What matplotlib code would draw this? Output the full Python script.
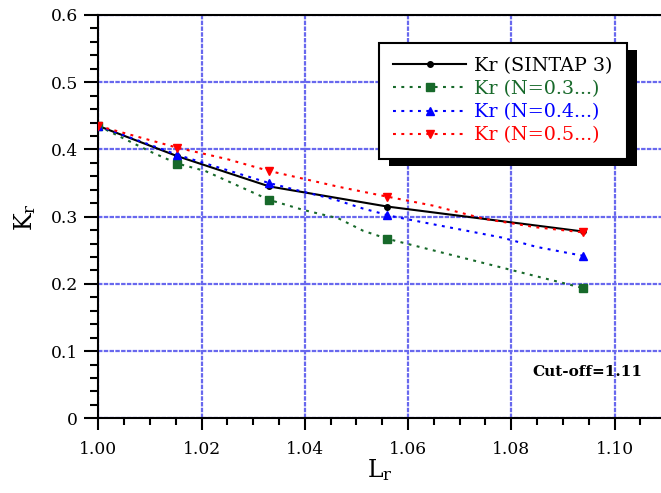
import matplotlib
matplotlib.use("Agg")
import matplotlib.pyplot as plt
from matplotlib.lines import Line2D
from matplotlib.patches import Rectangle
from matplotlib.ticker import MultipleLocator, FuncFormatter

plt.rcParams["font.family"] = ["DejaVu Serif"]
plt.rcParams["mathtext.fontset"] = "dejavuserif"

# SINTAP level 3 failure assessment curve
lr_sintap = [1.0, 1.0153, 1.0331, 1.0560, 1.0938]
kr_sintap = [0.435, 0.390, 0.345, 0.315, 0.278]

# Hardening exponent N = 0.3
lr_n03 = [1.0, 1.0100, 1.0153, 1.0207, 1.0331, 1.0397, 1.0465, 1.0513, 1.0560, 1.0938]
kr_n03 = [0.435, 0.397, 0.379, 0.368, 0.325, 0.310, 0.2975, 0.279, 0.267, 0.194]
mk_n03 = [0, 2, 4, 8, 9]

# Hardening exponent N = 0.4
lr_n04 = [1.0, 1.0153, 1.0331, 1.0397, 1.0456, 1.0513, 1.0545, 1.0560, 1.0633, 1.0781, 1.0849, 1.0913, 1.0938]
kr_n04 = [0.435, 0.392, 0.350, 0.337, 0.326, 0.312, 0.3055, 0.302, 0.291, 0.269, 0.255, 0.2455, 0.242]
mk_n04 = [0, 1, 2, 7, 12]

# Hardening exponent N = 0.5
lr_n05 = [1.0, 1.0153, 1.0249, 1.0331, 1.0465, 1.0560, 1.0649, 1.0749, 1.0849, 1.0938]
kr_n05 = [0.435, 0.4026, 0.3857, 0.368, 0.3445, 0.3297, 0.3163, 0.2965, 0.2841, 0.2767]
mk_n05 = [0, 1, 3, 5, 9]

labels = ["Kr (SINTAP 3)", "Kr (N=0.3...)", "Kr (N=0.4...)", "Kr (N=0.5...)"]
colors = ["black", "#17692a", "#0000ff", "#ff0000"]
cutoff_text = "Cut-off=1.11"

W, H = 661, 493
fig = plt.figure(figsize=(W / 100, H / 100), dpi=100)
left_px, right_px, top_px, bottom_px = 98.3, 661, 15, 418.3
ax = fig.add_axes([left_px / W, 1 - bottom_px / H,
                   (right_px - left_px) / W, (bottom_px - top_px) / H])

dots = (0, (1.4, 2.6))
ax.plot(lr_sintap, kr_sintap, color=colors[0], lw=1.5, marker="o", ms=4, zorder=3)
ax.plot(lr_n03, kr_n03, color=colors[1], lw=1.5, ls=dots, marker="s", ms=5.5,
        markevery=mk_n03, zorder=3)
ax.plot(lr_n04, kr_n04, color=colors[2], lw=1.5, ls=dots, marker="^", ms=6,
        markevery=mk_n04, zorder=3)
ax.plot(lr_n05, kr_n05, color=colors[3], lw=1.5, ls=dots, marker="v", ms=6,
        markevery=mk_n05, zorder=3)

ax.set_xlim(1.0, 1.109)
ax.set_ylim(0, 0.6)
ax.xaxis.set_major_locator(MultipleLocator(0.02))
ax.xaxis.set_minor_locator(MultipleLocator(0.005))
ax.yaxis.set_major_locator(MultipleLocator(0.1))
ax.yaxis.set_minor_locator(MultipleLocator(0.02))
ax.xaxis.set_major_formatter(FuncFormatter(lambda v, p: f"{v:.2f}"))
ax.yaxis.set_major_formatter(FuncFormatter(lambda v, p: "0" if abs(v) < 1e-9 else f"{v:.1f}"))

ax.grid(True, which="major", color="#6868ee", lw=1.6, ls=(0, (2.0, 0.6)))
ax.set_axisbelow(True)

for side in ("left", "bottom", "top"):
    ax.spines[side].set_linewidth(1.5)
    ax.spines[side].set_color("black")
ax.spines["right"].set_visible(False)

ax.tick_params(which="both", direction="out", width=1.5, labelsize=12.3,
               top=False, right=False)
ax.tick_params(axis="x", which="major", length=8.6, pad=8)
ax.tick_params(axis="x", which="minor", length=4.7)
ax.tick_params(axis="y", which="major", length=10, pad=4.5)
ax.tick_params(axis="y", which="minor", length=5.8)

ax.set_xlabel(r"L$_\mathrm{r}$", fontsize=17, labelpad=-1)
ax.set_ylabel(r"K$_\mathrm{r}$", fontsize=17, labelpad=9.5)

ax.text(0.9675, 0.115, cutoff_text, transform=ax.transAxes, ha="right",
        va="center", fontsize=11, fontweight="bold")

handles = [
    Line2D([], [], color=colors[0], lw=1.5, marker="o", ms=4),
    Line2D([], [], color=colors[1], lw=1.5, ls=dots, marker="s", ms=5.5),
    Line2D([], [], color=colors[2], lw=1.5, ls=dots, marker="^", ms=6),
    Line2D([], [], color=colors[3], lw=1.5, ls=dots, marker="v", ms=6),
]
leg = ax.legend(handles, labels, loc="upper left", bbox_to_anchor=(0.4994, 0.9313),
                borderaxespad=0, fontsize=13.8, handlelength=3.8,
                handletextpad=0.42, labelspacing=0.27, borderpad=0.74,
                fancybox=False, framealpha=1, edgecolor="black",
                labelcolor="linecolor", numpoints=1)
leg.get_frame().set_linewidth(1.5)

# solid drop shadow behind the legend box
fig.canvas.draw()
bb = leg.get_frame().get_window_extent()
inv = ax.transAxes.inverted()
(x0, y0), (x1, y1) = inv.transform([[bb.x0 + 10, bb.y0 - 7], [bb.x1 + 10, bb.y1 - 7]])
ax.add_patch(Rectangle((x0, y0), x1 - x0, y1 - y0, transform=ax.transAxes,
                       facecolor="black", edgecolor="none", zorder=leg.get_zorder() - 0.1,
                       clip_on=False))

fig.savefig("out.png", dpi=100)
